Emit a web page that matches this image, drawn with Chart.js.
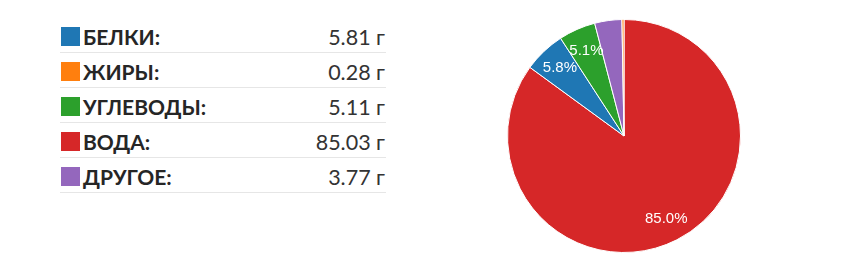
<!DOCTYPE html>
<html>
<head>
<meta charset="utf-8">
<script src="https://cdn.jsdelivr.net/npm/chart.js@4.4.0/dist/chart.umd.min.js"></script>
<style>
    html, body { margin: 0; padding: 0; background: #fff; }
    body { width: 843px; height: 263px; position: relative; overflow: hidden; }
    #legend { position: absolute; left: 60px; top: 18px; width: 326px; font-family: 'Lato', sans-serif; }
    .row { height: 35px; box-sizing: border-box; border-bottom: 1px solid #e6e6e6;
           display: flex; align-items: center; padding-top: 3px; }
    .sw { width: 19px; height: 19px; margin-left: 1px; margin-right: 3px; flex: none; }
    .lbl { font-weight: 700; font-size: 21px; color: #262626; flex: 1; }
    .val { font-size: 21.5px; color: #333; text-align: right; padding-right: 1px; }
    #pieBox { position: absolute; left: 507px; top: 19px; width: 234px; height: 234px; }
</style>
</head>
<body>
<div id="legend"></div>
<div id="pieBox"><canvas id="pie"></canvas></div>
<script>
    // legend rows (table order)
    var NAMES  = ['БЕЛКИ:', 'ЖИРЫ:', 'УГЛЕВОДЫ:', 'ВОДА:', 'ДРУГОЕ:'];
    var GRAMS  = [5.81, 0.28, 5.11, 85.03, 3.77];
    var COLORS = ['#1f77b4', '#ff7f0e', '#2ca02c', '#d62728', '#9467bd'];
    // pie drawing order, clockwise from 12 o'clock
    var PIE_ORDER = [3, 0, 2, 4, 1];

    var legend = document.getElementById('legend');
    NAMES.forEach(function (n, i) {
        var row = document.createElement('div');
        row.className = 'row';
        row.innerHTML = '<span class="sw" style="background:' + COLORS[i] + '"></span>' +
                        '<span class="lbl">' + n + '</span>' +
                        '<span class="val">' + GRAMS[i].toFixed(2) + ' г</span>';
        legend.appendChild(row);
    });

    var pieLabels = PIE_ORDER.map(function (i) { return NAMES[i]; });
    var pieValues = PIE_ORDER.map(function (i) { return GRAMS[i]; });
    var pieColors = PIE_ORDER.map(function (i) { return COLORS[i]; });

    /* percent text inside the big enough slices */
    var pctLabels = {
        id: 'pctLabels',
        afterDatasetsDraw: function (chart) {
            var ctx  = chart.ctx;
            var data = chart.data.datasets[0].data;
            var total = data.reduce(function (a, b) { return a + b; }, 0);
            ctx.save();
            ctx.fillStyle = '#ffffff';
            ctx.font = '15px "Liberation Sans", Arial, sans-serif';
            ctx.textAlign = 'center';
            ctx.textBaseline = 'middle';
            chart.getDatasetMeta(0).data.forEach(function (arc, i) {
                var pct = data[i] / total * 100;
                if (pct < 5) return;
                var mid = (arc.startAngle + arc.endAngle) / 2;
                var r = arc.outerRadius * 0.8;
                ctx.fillText(pct.toFixed(1) + '%', arc.x + Math.cos(mid) * r, arc.y + Math.sin(mid) * r);
            });
            ctx.restore();
        }
    };

    new Chart(document.getElementById('pie').getContext('2d'), {
        type: 'pie',
        data: {
            labels: pieLabels,
            datasets: [{
                data: pieValues,
                backgroundColor: pieColors,
                borderColor: '#ffffff',
                borderWidth: 1
            }]
        },
        options: {
            responsive: true,
            maintainAspectRatio: false,
            animation: false,
            layout: { padding: 0 },
            plugins: {
                legend: { display: false },
                tooltip: { enabled: false }
            }
        },
        plugins: [pctLabels]
    });
</script>
</body>
</html>
